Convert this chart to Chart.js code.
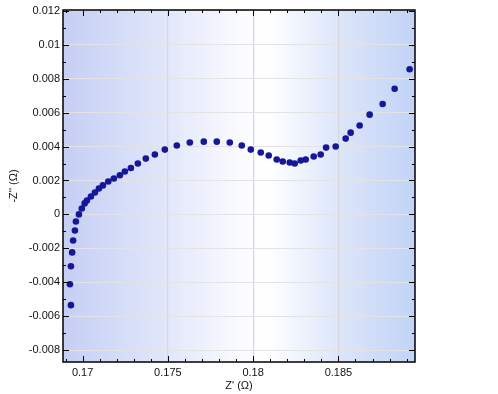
<!DOCTYPE html>
<html>
<head>
<meta charset="utf-8">
<script src="https://cdn.jsdelivr.net/npm/chart.js@4"></script>
<style>
  html, body { margin: 0; padding: 0; background: #ffffff; }
  #wrap { width: 498px; height: 394px; }
</style>
</head>
<body>
<div id="wrap"><canvas id="c" width="498" height="394"></canvas></div>
<script>
// Z' (Ω) values
const zReal = [
  0.169315, 0.169256, 0.169315, 0.169385, 0.169443, 0.169549, 0.169607, 0.169783,
  0.169953, 0.170117, 0.170252, 0.170486, 0.170721, 0.170955, 0.171189, 0.171506,
  0.171834, 0.172185, 0.172478, 0.172830, 0.173240, 0.173708, 0.174236, 0.174821,
  0.175524, 0.176286, 0.177106, 0.177868, 0.178629, 0.179332, 0.179860, 0.180446,
  0.180914, 0.181383, 0.181734, 0.182144, 0.182437, 0.182789, 0.183082, 0.183550,
  0.183960, 0.184277, 0.184839, 0.185425, 0.185718, 0.186245, 0.186831, 0.187593,
  0.188296, 0.189175
];
// -Z'' (Ω) values
const zImagNeg = [
  -0.00535, -0.00412, -0.00306, -0.00224, -0.00154, -0.00095, -0.00042, 0.00000,
  0.00035, 0.00065, 0.00082, 0.00106, 0.00129, 0.00153, 0.00171, 0.00194,
  0.00212, 0.00231, 0.00253, 0.00274, 0.00300, 0.00329, 0.00353, 0.00382,
  0.00406, 0.00424, 0.00429, 0.00429, 0.00424, 0.00406, 0.00382, 0.00365,
  0.00347, 0.00324, 0.00312, 0.00306, 0.00300, 0.00318, 0.00324, 0.00341,
  0.00353, 0.00394, 0.00400, 0.00447, 0.00482, 0.00524, 0.00588, 0.00651,
  0.00741, 0.00856
];
const xTickValues = [0.17, 0.175, 0.18, 0.185];
const yTickValues = [-0.008, -0.006, -0.004, -0.002, 0, 0.002, 0.004, 0.006, 0.008, 0.01, 0.012];
const xMinorTicks = [0.169,0.170,0.171,0.172,0.173,0.174,0.175,0.176,0.177,0.178,0.179,0.180,0.181,0.182,0.183,0.184,0.185,0.186,0.187,0.188,0.189];
const yMinorTicks = [-0.008,-0.007,-0.006,-0.005,-0.004,-0.003,-0.002,-0.001,0,0.001,0.002,0.003,0.004,0.005,0.006,0.007,0.008,0.009,0.010,0.011,0.012];
const xTitle = "Z' (Ω)";
const yTitle = "-Z'' (Ω)";

const points = zReal.map((x, i) => ({ x: x, y: zImagNeg[i] }));
const FONT = "'Liberation Sans', Arial, sans-serif";

const bgPlugin = {
  id: 'bg',
  beforeDraw(chart) {
    const { ctx, chartArea: a } = chart;
    const g = ctx.createLinearGradient(a.left, 0, a.right, 0);
    g.addColorStop(0, '#c5cff4');
    g.addColorStop(0.3, '#e2e7fa');
    g.addColorStop(0.5, '#fafbff');
    g.addColorStop(0.58, '#ffffff');
    g.addColorStop(0.78, '#dde6fa');
    g.addColorStop(1, '#c2d3f7');
    ctx.save();
    ctx.fillStyle = g;
    ctx.fillRect(a.left, a.top, a.right - a.left, a.bottom - a.top);
    ctx.restore();
  },
  afterDatasetsDraw(chart) {
    const { ctx, chartArea: a, scales } = chart;
    ctx.save();
    ctx.strokeStyle = '#000000';
    ctx.lineWidth = 1;
    ctx.beginPath();
    xMinorTicks.forEach(v => {
      const px = Math.round(scales.x.getPixelForValue(v)) + 0.5;
      const major = Math.abs(v / 0.005 - Math.round(v / 0.005)) < 1e-6;
      const len = major ? 6 : 3;
      ctx.moveTo(px, a.bottom); ctx.lineTo(px, a.bottom - len);
      ctx.moveTo(px, a.top); ctx.lineTo(px, a.top + len);
    });
    yMinorTicks.forEach(v => {
      const py = Math.round(scales.y.getPixelForValue(v)) + 0.5;
      const major = Math.abs(v / 0.002 - Math.round(v / 0.002)) < 1e-6;
      const len = major ? 6 : 3;
      ctx.moveTo(a.left, py); ctx.lineTo(a.left + len, py);
      ctx.moveTo(a.right, py); ctx.lineTo(a.right - len, py);
    });
    ctx.stroke();
    ctx.lineWidth = 1.5;
    ctx.strokeRect(a.left, a.top, a.right - a.left, a.bottom - a.top);
    ctx.restore();
  }
};

new Chart(document.getElementById('c'), {
  type: 'scatter',
  data: {
    datasets: [{
      data: points,
      backgroundColor: '#161698',
      borderColor: '#161698',
      pointRadius: 3.3,
      pointHoverRadius: 3.3,
      borderWidth: 0
    }]
  },
  options: {
    responsive: false,
    animation: false,
    devicePixelRatio: 1,
    layout: { padding: { top: 10, right: 83, left: 0, bottom: 0 } },
    plugins: { legend: { display: false }, tooltip: { enabled: false } },
    scales: {
      x: {
        type: 'linear',
        min: 0.16885,
        max: 0.18949,
        afterBuildTicks: s => { s.ticks = xTickValues.map(v => ({ value: v })); },
        afterFit: s => { s.height = 32; },
        border: { display: false },
        grid: {
          drawTicks: false,
          color: ctx => (ctx.tick && Math.abs(ctx.tick.value - 0.17) < 1e-9) ? 'rgba(0,0,0,0)' : '#d6d6d6',
          lineWidth: 1.2
        },
        ticks: {
          padding: 4,
          color: '#111',
          font: { family: FONT, size: 11 },
          maxRotation: 0,
          callback: v => String(Number(v.toFixed(4)))
        },
        title: {
          display: true,
          text: xTitle,
          color: '#111',
          font: { family: FONT, size: 11 },
          padding: { top: 1.5, bottom: 1.5 }
        }
      },
      y: {
        type: 'linear',
        min: -0.0087,
        max: 0.01205,
        afterBuildTicks: s => { s.ticks = yTickValues.map(v => ({ value: v })); },
        afterFit: s => { s.width = 63; },
        border: { display: false },
        grid: {
          drawTicks: false,
          color: '#e3e3e3',
          lineWidth: 1
        },
        ticks: {
          padding: 3,
          color: '#111',
          font: { family: FONT, size: 11 },
          callback: v => String(Number(v.toFixed(4)))
        },
        title: {
          display: true,
          text: yTitle,
          color: '#111',
          font: { family: FONT, size: 11 },
          padding: { top: 7, bottom: 7 }
        }
      }
    }
  },
  plugins: [bgPlugin]
});
</script>
</body>
</html>
